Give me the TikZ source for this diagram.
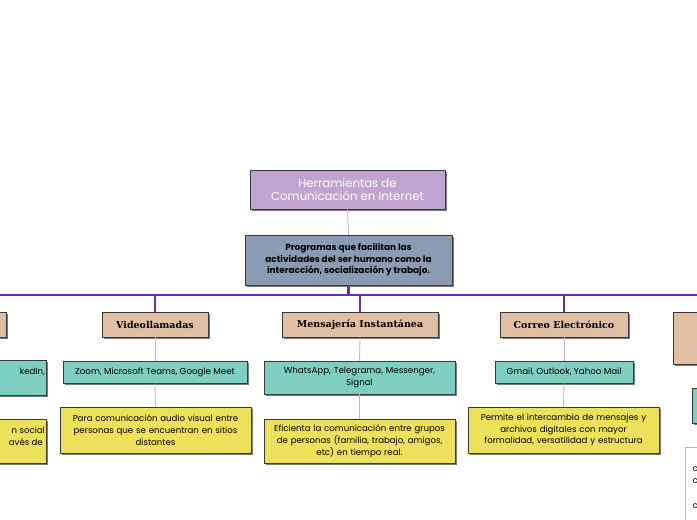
\documentclass[tikz,border=0pt]{standalone}
\usepackage{fontspec}
\setmainfont{Poppins}
\newfontfamily\headfont{DejaVu Serif}
\usetikzlibrary{shadows}
\definecolor{titlefill}{HTML}{C0A3D1}
\definecolor{subfill}{HTML}{8A9BB3}
\definecolor{catfill}{HTML}{E1BFA2}
\definecolor{tealfill}{HTML}{7ECFC2}
\definecolor{yelfill}{HTML}{EDE05A}
\definecolor{thinline}{HTML}{C9A9DD}
\definecolor{barline}{HTML}{6F2DA0}
\definecolor{boxedge}{HTML}{3A3A3A}
\tikzset{
  boxbase/.style={draw=boxedge, line width=0.7pt, inner sep=2pt, align=center,
    drop shadow={shadow xshift=2pt, shadow yshift=-2pt, fill=black!60, opacity=0.85}},
  titlebox/.style={boxbase, fill=titlefill, text=white, font=\fontsize{11.7}{13.5}\selectfont},
  subbox/.style={boxbase, fill=subfill, font=\bfseries\fontsize{8.9}{11.5}\selectfont},
  catbox/.style={boxbase, fill=catfill, font=\headfont\bfseries\fontsize{9.5}{11}\selectfont},
  tealbox/.style={boxbase, fill=tealfill, font=\fontsize{8.7}{11.5}\selectfont},
  yelbox/.style={boxbase, fill=yelfill, font=\fontsize{8.6}{11.8}\selectfont},
  whitebox/.style={draw=thinline, line width=0.8pt, fill=white},
  partial/.style={font=\fontsize{8.6}{11.8}\selectfont, inner sep=0pt, anchor=base east},
  thin/.style={draw=thinline, line width=0.8pt},
  thick/.style={draw=barline, line width=2.6pt},
}
\begin{document}
\begin{tikzpicture}[x=1pt,y=-1pt]
\useasboundingbox (0,0) rectangle (697,520);
\clip (0,0) rectangle (697,520);
\fill[white] (0,0) rectangle (697,520);

% title and subtitle
\node[titlebox, minimum width=195pt, minimum height=39pt] (title) at (347.5,189.5)
  {Herramientas de\\Comunicación en Internet};
\node[subbox, minimum width=207pt, minimum height=50pt] (sub) at (348.5,260)
  {Programas que facilitan las\\actividades del ser humano como la\\interacción, socialización y trabajo.};

% category boxes
\node[catbox, minimum width=112pt, minimum height=25pt] (catL) at (-50,324.5) {};
\node[catbox, minimum width=106pt, minimum height=25pt] (catV) at (155,324.5) {Videollamadas};
\node[catbox, minimum width=156pt, minimum height=25pt] (catM) at (360,324.5) {Mensajería Instantánea};
\node[catbox, minimum width=128pt, minimum height=25pt] (catC) at (564,324.5) {Correo Electrónico};
\node[catbox, minimum width=120pt, minimum height=52pt] (catR) at (733,338) {};

% teal boxes
\node[tealbox, minimum width=180pt, minimum height=35pt] (tealL) at (-44,377.5) {};
\node[tealbox, minimum width=184pt, minimum height=22pt] (tealV) at (155,372) {Zoom, Microsoft Teams, Google Meet};
\node[tealbox, minimum width=191pt, minimum height=33pt, text width=184pt] (tealM) at (359.5,377.5) {WhatsApp, Telegrama, Messenger,\\Signal};
\node[tealbox, minimum width=138pt, minimum height=22pt] (tealC) at (564,372) {Gmail, Outlook, Yahoo Mail};
\node[tealbox, minimum width=180pt, minimum height=35pt] (tealR) at (782,405.5) {};

% yellow boxes
\node[yelbox, minimum width=190pt, minimum height=44pt] (yelL) at (-49,441) {};
\node[yelbox, minimum width=191pt, minimum height=46pt, text width=186pt] (yelV) at (155.5,430)
  {Para comunicación audio visual entre\\personas que se encuentran en sitios\\distantes};
\node[yelbox, minimum width=191pt, minimum height=44pt, text width=186pt] (yelM) at (359.5,441)
  {Eficienta la comunicación entre grupos\\de personas (familia, trabajo, amigos,\\etc) en tiempo real.};
\node[yelbox, minimum width=191pt, minimum height=46pt, text width=187pt] (yelC) at (563.5,430)
  {Permite el intercambio de mensajes y\\archivos digitales con mayor\\formalidad, versatilidad y estructura};

% right white box
\node[whitebox, anchor=north west, minimum width=120pt, minimum height=90pt, inner sep=0pt] (wbox) at (685,447) {};

% visible fragments of the cut-off texts
\node[partial] (tL1) at (45,374) {kedIn,};
\node[partial] (yL1) at (45,433) {n social};
\node[partial] (yL2) at (43,445) {avés de};
\node[font=\fontsize{8.6}{11.8}\selectfont, inner sep=0pt, anchor=base west] (w1) at (692.5,471) {c};
\node[font=\fontsize{8.6}{11.8}\selectfont, inner sep=0pt, anchor=base west] (w2) at (692.5,483) {c};
\node[font=\fontsize{8.6}{11.8}\selectfont, inner sep=0pt, anchor=base west] (w3) at (692.5,508) {c};

% connectors
\coordinate (barL) at (0,295);
\coordinate (barR) at (697,295);
\draw[thin] (title.south) -- (sub.north);
\draw[thick] (sub.south) -- (sub.south |- barL);
\draw[thick] (barL) -- (barR);
\draw[thick] (catV.north |- barL) -- (catV.north);
\draw[thick] (catM.north |- barL) -- (catM.north);
\draw[thick] (catC.north |- barL) -- (catC.north);
\draw[thin] (catV.south) -- (tealV.north);
\draw[thin] (tealV.south) -- (yelV.north);
\draw[thin] (catM.south) -- (tealM.north);
\draw[thin] (tealM.south) -- (yelM.north);
\draw[thin] (catC.south) -- (tealC.north);
\draw[thin] (tealC.south) -- (yelC.north);
\end{tikzpicture}
\end{document}
